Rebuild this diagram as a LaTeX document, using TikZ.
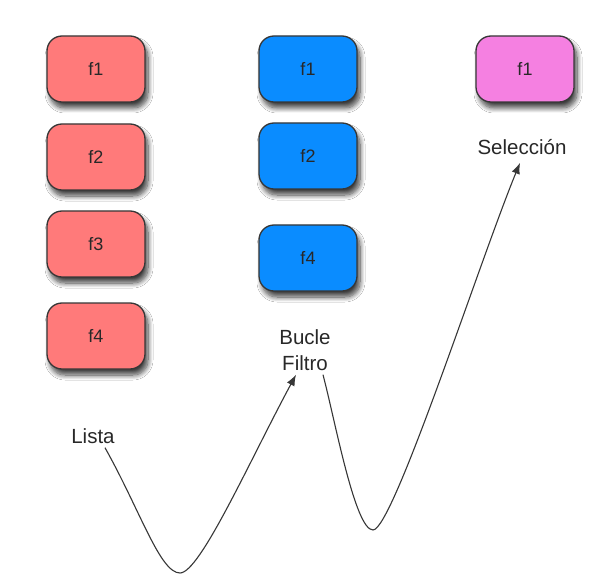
\documentclass[tikz,border=0pt]{standalone}
\usepackage{fontspec}
\setmainfont{Liberation Sans}
\usetikzlibrary{shadows.blur,arrows.meta,calc}
\definecolor{boxred}{RGB}{255,122,122}
\definecolor{boxblue}{RGB}{10,140,255}
\definecolor{boxpink}{RGB}{245,128,225}
\definecolor{edge}{RGB}{55,55,55}
\definecolor{txt}{RGB}{40,40,40}
\tikzset{
  fbox/.style={draw=edge, line width=1.3pt, rounded corners=15pt,
    minimum width=98pt, minimum height=66pt, inner sep=0pt,
    font=\fontsize{18}{20}\selectfont, text=txt,
    blur shadow={shadow xshift=3pt, shadow yshift=-6pt, shadow blur radius=5pt, shadow blur steps=10, shadow opacity=75}},
  redbox/.style={fbox, fill=boxred},
  bluebox/.style={fbox, fill=boxblue},
  pinkbox/.style={fbox, fill=boxpink},
  lbl/.style={font=\fontsize{20.5}{26}\selectfont, text=txt, inner sep=0pt, align=center},
  conn/.style={draw=edge, line width=1.1pt, -{Latex[length=11pt,width=8.5pt]}}
}
\begin{document}
\begin{tikzpicture}[x=1pt,y=-1pt]
\fill[white] (0,0) rectangle (600,588);
\useasboundingbox (0,0) rectangle (600,588);
% red list
\node[redbox] (r1) at (96,69) {f1};
\node[redbox] (r2) at (96,157) {f2};
\node[redbox] (r3) at (96,244) {f3};
\node[redbox] (r4) at (96,336) {f4};
% blue filter
\node[bluebox] (b1) at (308,69) {f1};
\node[bluebox] (b2) at (308,156) {f2};
\node[bluebox] (b4) at (308,258) {f4};
% pink selection
\node[pinkbox] (p1) at (525,69) {f1};
% labels
\node[lbl] (lista) at (93,436) {Lista};
\node[lbl] (bucle) at (305,350) {Bucle\\Filtro};
\node[lbl] (sel) at (522,147) {Selección};
% connectors
\coordinate (v1) at (180,573);
\coordinate (v2) at (373,530);
\draw[conn] ($(lista.south)+(12,4)$) .. controls (140,510) and (160,573) .. (v1)
  .. controls (200,573) and (250,460) .. ($(bucle.south)+(-9,4)$);
\draw[conn] ($(bucle.south)+(18,4)$) .. controls (335,420) and (355,530) .. (v2)
  .. controls (393,530) and (480,260) .. ($(sel.south)+(-2,8)$);
\end{tikzpicture}
\end{document}
